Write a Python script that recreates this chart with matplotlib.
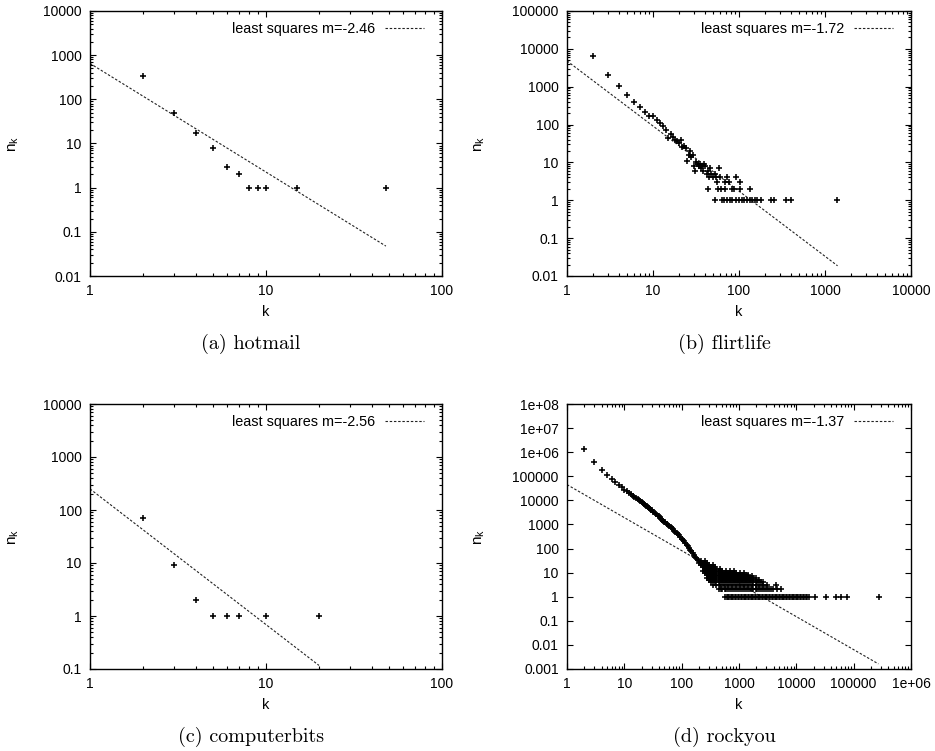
import numpy as np
import matplotlib
matplotlib.use('Agg')
import matplotlib.pyplot as plt
from matplotlib.ticker import LogLocator, FuncFormatter, NullFormatter, NullLocator

plt.rcParams['font.family'] = ['Liberation Sans', 'DejaVu Sans']
plt.rcParams['font.size'] = 10

# (a) hotmail
hot_k = [2, 3, 4, 5, 6, 7, 8, 9, 10, 15, 48]
hot_n = [330, 50, 17, 8, 3, 2, 1, 1, 1, 1, 1]
hot_fit = (650, -2.46, 48)       # value at k=1, slope, last k

# (b) flirtlife
flirt_k = [2, 3, 4, 5, 6, 7, 8, 9, 10, 11, 12, 13, 14, 15, 16, 17, 18, 19, 20,
           21, 22, 23, 24, 25, 26, 27, 28, 29, 30, 31, 32, 33, 34, 35, 36, 37,
           38, 39, 40,
           46, 58, 44, 42, 47, 53, 45, 50, 54, 60, 73, 92, 56, 68, 77, 102,
           44, 57, 61, 69, 82, 87, 104, 134,
           53, 63, 67, 72, 79, 84, 93, 99, 107, 115, 124, 134, 143, 154, 163,
           179, 233, 255, 348, 398, 1380]
flirt_n = [6300, 2100, 1050, 600, 400, 290, 215, 165, 165, 130, 112, 92, 72,
           45, 56, 48, 39, 36, 33, 39, 25, 27, 24, 11, 16, 20, 14, 16, 8, 6,
           10, 9, 8, 9, 7, 8, 6, 9, 8,
           7, 7, 6, 5, 5, 5, 4, 4, 4, 4, 4, 4, 3, 3, 3, 3,
           2, 2, 2, 2, 2, 2, 2, 2,
           1, 1, 1, 1, 1, 1, 1, 1, 1, 1, 1, 1, 1, 1, 1,
           1, 1, 1, 1, 1, 1]
flirt_fit = (4800, -1.72, 1400)

# (c) computerbits
comp_k = [2, 3, 4, 5, 6, 7, 10, 20]
comp_n = [72, 9, 2, 1, 1, 1, 1, 1]
comp_fit = (250, -2.56, 20)

# (d) rockyou: head and ridge
rock_k = [2, 3, 4, 5, 6, 7, 8, 9, 10, 11, 12, 13, 14, 15, 16, 17, 18, 19, 20,
          21, 22, 23, 24, 25, 26, 27, 28, 29, 30, 32, 34, 36, 38, 40, 42, 44,
          46, 48, 50, 52, 55, 58, 61, 64, 67, 70, 74, 78, 82, 86, 90, 95, 100,
          105, 110, 116, 122, 128, 134, 141, 148, 155, 163, 171, 180, 190, 200]
rock_n = [1.35e6, 3.9e5, 1.85e5, 1.08e5, 7.5e4, 5.7e4, 4.5e4, 3.5e4, 2.8e4,
          24000, 20500, 17800, 15700, 14000, 12600, 11300, 10200, 9300, 8500,
          7900, 7300, 6700, 6100, 5650, 5200, 4800, 4450, 4150, 3850, 3400,
          3000, 2650, 2350, 2150, 1950, 1730, 1580, 1440, 1320, 1220, 1090,
          980, 880, 800, 730, 630, 560, 500, 445, 395, 350, 305, 260, 228,
          200, 170, 145, 125, 105, 90, 76, 64, 54, 46, 40, 35, 30]
# rockyou: scatter below the ridge, one list of k per count
rock_rows_n = [30, 25, 20, 17, 14, 12, 10, 8, 7, 6, 5, 4, 3, 2, 1]
rock_rows_k = [
    [215, 255],
    [200, 235, 275],
    [215, 255, 295, 345],
    [235, 275, 320, 375],
    [255, 295, 345, 405, 475],
    [235, 275, 320, 375, 440, 515, 600, 700, 820],
    [255, 295, 345, 405, 475, 555, 650, 760, 890, 1040, 1220],
    [275, 320, 375, 440, 515, 600, 700, 820, 960, 1120, 1310, 1420],
    [295, 345, 405, 475, 555, 650, 760, 890, 1040, 1220, 1420, 1660],
    [275, 320, 375, 440, 515, 600, 700, 820, 960, 1120, 1310, 1530, 1790,
     1940],
    [295, 345, 405, 475, 555, 650, 760, 890, 1040, 1220, 1420, 1660, 1940,
     2270],
    [320, 375, 440, 515, 600, 700, 820, 960, 1120, 1310, 1530, 1790, 2100,
     2450, 2660],
    [345, 405, 475, 555, 650, 760, 890, 1040, 1220, 1420, 1660, 1940, 2270,
     2660, 3110, 4400],
    [440, 480, 515, 560, 600, 650, 700, 760, 820, 890, 960, 1040, 1120, 1220,
     1310, 1420, 1530, 1660, 1790, 1940, 2100, 2270, 2450, 2660, 2870, 3110,
     3360, 3640, 3930, 4600, 5500],
    [570, 610, 640, 680, 720, 760, 800, 850, 900, 950, 1010, 1070, 1130, 1200,
     1270, 1340, 1420, 1500, 1590, 1680, 1780, 1890, 2000, 2120, 2240, 2370,
     2500, 2650, 2800, 2970, 3140, 3330, 3520, 3730, 3940, 4170, 4410, 4670,
     4940, 5230, 5540, 5870, 6200, 6560, 6950, 7360, 7780, 8240, 8710, 9220,
     9760, 10300, 10900, 11500, 12200, 12900, 13700, 14500, 15300, 16500,
     21000, 33000, 50000, 61000, 78000, 282000],
]
rock_fit = (45000, -1.37, 270000)

panels = [
    dict(k=hot_k, n=hot_n, fit=hot_fit, xlim=(1, 100), ylim=(0.01, 10000),
         cap='(a) hotmail', box=(90, 11, 442, 276), ylx=-0.196, ymin=True),
    dict(k=flirt_k, n=flirt_n, fit=flirt_fit, xlim=(1, 10000), ylim=(0.01, 100000),
         cap='(b) flirtlife', box=(567, 11, 911, 276), ylx=-0.233, ymin=True),
    dict(k=comp_k, n=comp_n, fit=comp_fit, xlim=(1, 100), ylim=(0.1, 10000),
         cap='(c) computerbits', box=(90, 404, 442, 669), ylx=-0.196, ymin=True),
    dict(k=rock_k, n=rock_n, fit=rock_fit, xlim=(1, 1e6), ylim=(0.001, 1e8),
         cap='(d) rockyou', box=(567, 404, 911, 669), ylx=-0.233, ymin=False),
]

W, H = 935, 751
fig = plt.figure(figsize=(W / 100, H / 100), dpi=100)
fmt = FuncFormatter(lambda v, p: '%g' % v)

for i, p in enumerate(panels):
    x0, y0, x1, y1 = p['box']
    ax = fig.add_axes([x0 / W, 1 - y1 / H, (x1 - x0) / W, (y1 - y0) / H])
    ax.set_xscale('log')
    ax.set_yscale('log')

    c, m, kend = p['fit']
    kk = np.array([1.0, kend])
    ax.plot(kk, c * kk ** m, color='#222222', lw=0.8, ls=(0, (2.2, 1.6)),
            label='least squares m=%.2f' % m)

    mk = dict(ls='none', marker='+', color='black', ms=4.6, mew=1.15)
    ax.plot(p['k'], p['n'], **mk)
    if i == 3:
        for rn, rk in zip(rock_rows_n, rock_rows_k):
            ax.plot(rk, [rn] * len(rk), **mk)

    ax.set_xlim(*p['xlim'])
    ax.set_ylim(*p['ylim'])
    ax.xaxis.set_major_locator(LogLocator(base=10, numticks=20))
    ax.yaxis.set_major_locator(LogLocator(base=10, numticks=20))
    ax.xaxis.set_minor_locator(LogLocator(base=10, subs=range(2, 10), numticks=20))
    if p['ymin']:
        ax.yaxis.set_minor_locator(LogLocator(base=10, subs=range(2, 10), numticks=20))
    else:
        ax.yaxis.set_minor_locator(NullLocator())
    ax.xaxis.set_major_formatter(fmt)
    ax.yaxis.set_major_formatter(fmt)
    ax.xaxis.set_minor_formatter(NullFormatter())
    ax.yaxis.set_minor_formatter(NullFormatter())
    ax.tick_params(which='both', direction='in', top=True, right=True, width=0.8)
    ax.tick_params(which='major', length=4.5, pad=6, labelsize=10)
    ax.tick_params(which='minor', length=2.5)
    for s in ax.spines.values():
        s.set_linewidth(1.0)

    ax.set_xlabel('k', fontsize=10.5)
    ax.xaxis.set_label_coords(0.5, -0.11)
    ax.set_ylabel(r'$\mathregular{n_k}$', fontsize=11)
    ax.yaxis.set_label_coords(p['ylx'], 0.5)

    ax.legend(loc='upper right', bbox_to_anchor=(0.948, 0.96), frameon=False,
              markerfirst=False, handlelength=2.7, handletextpad=0.65,
              borderaxespad=0, borderpad=0, fontsize=10.4)

    cx = (x0 + x1) / 2 - 15
    fig.text(cx / W, 1 - (y1 + 68) / H, p['cap'], family='cmr10', fontsize=14.5,
             ha='center', va='center')

fig.savefig('out.png', dpi=100)
